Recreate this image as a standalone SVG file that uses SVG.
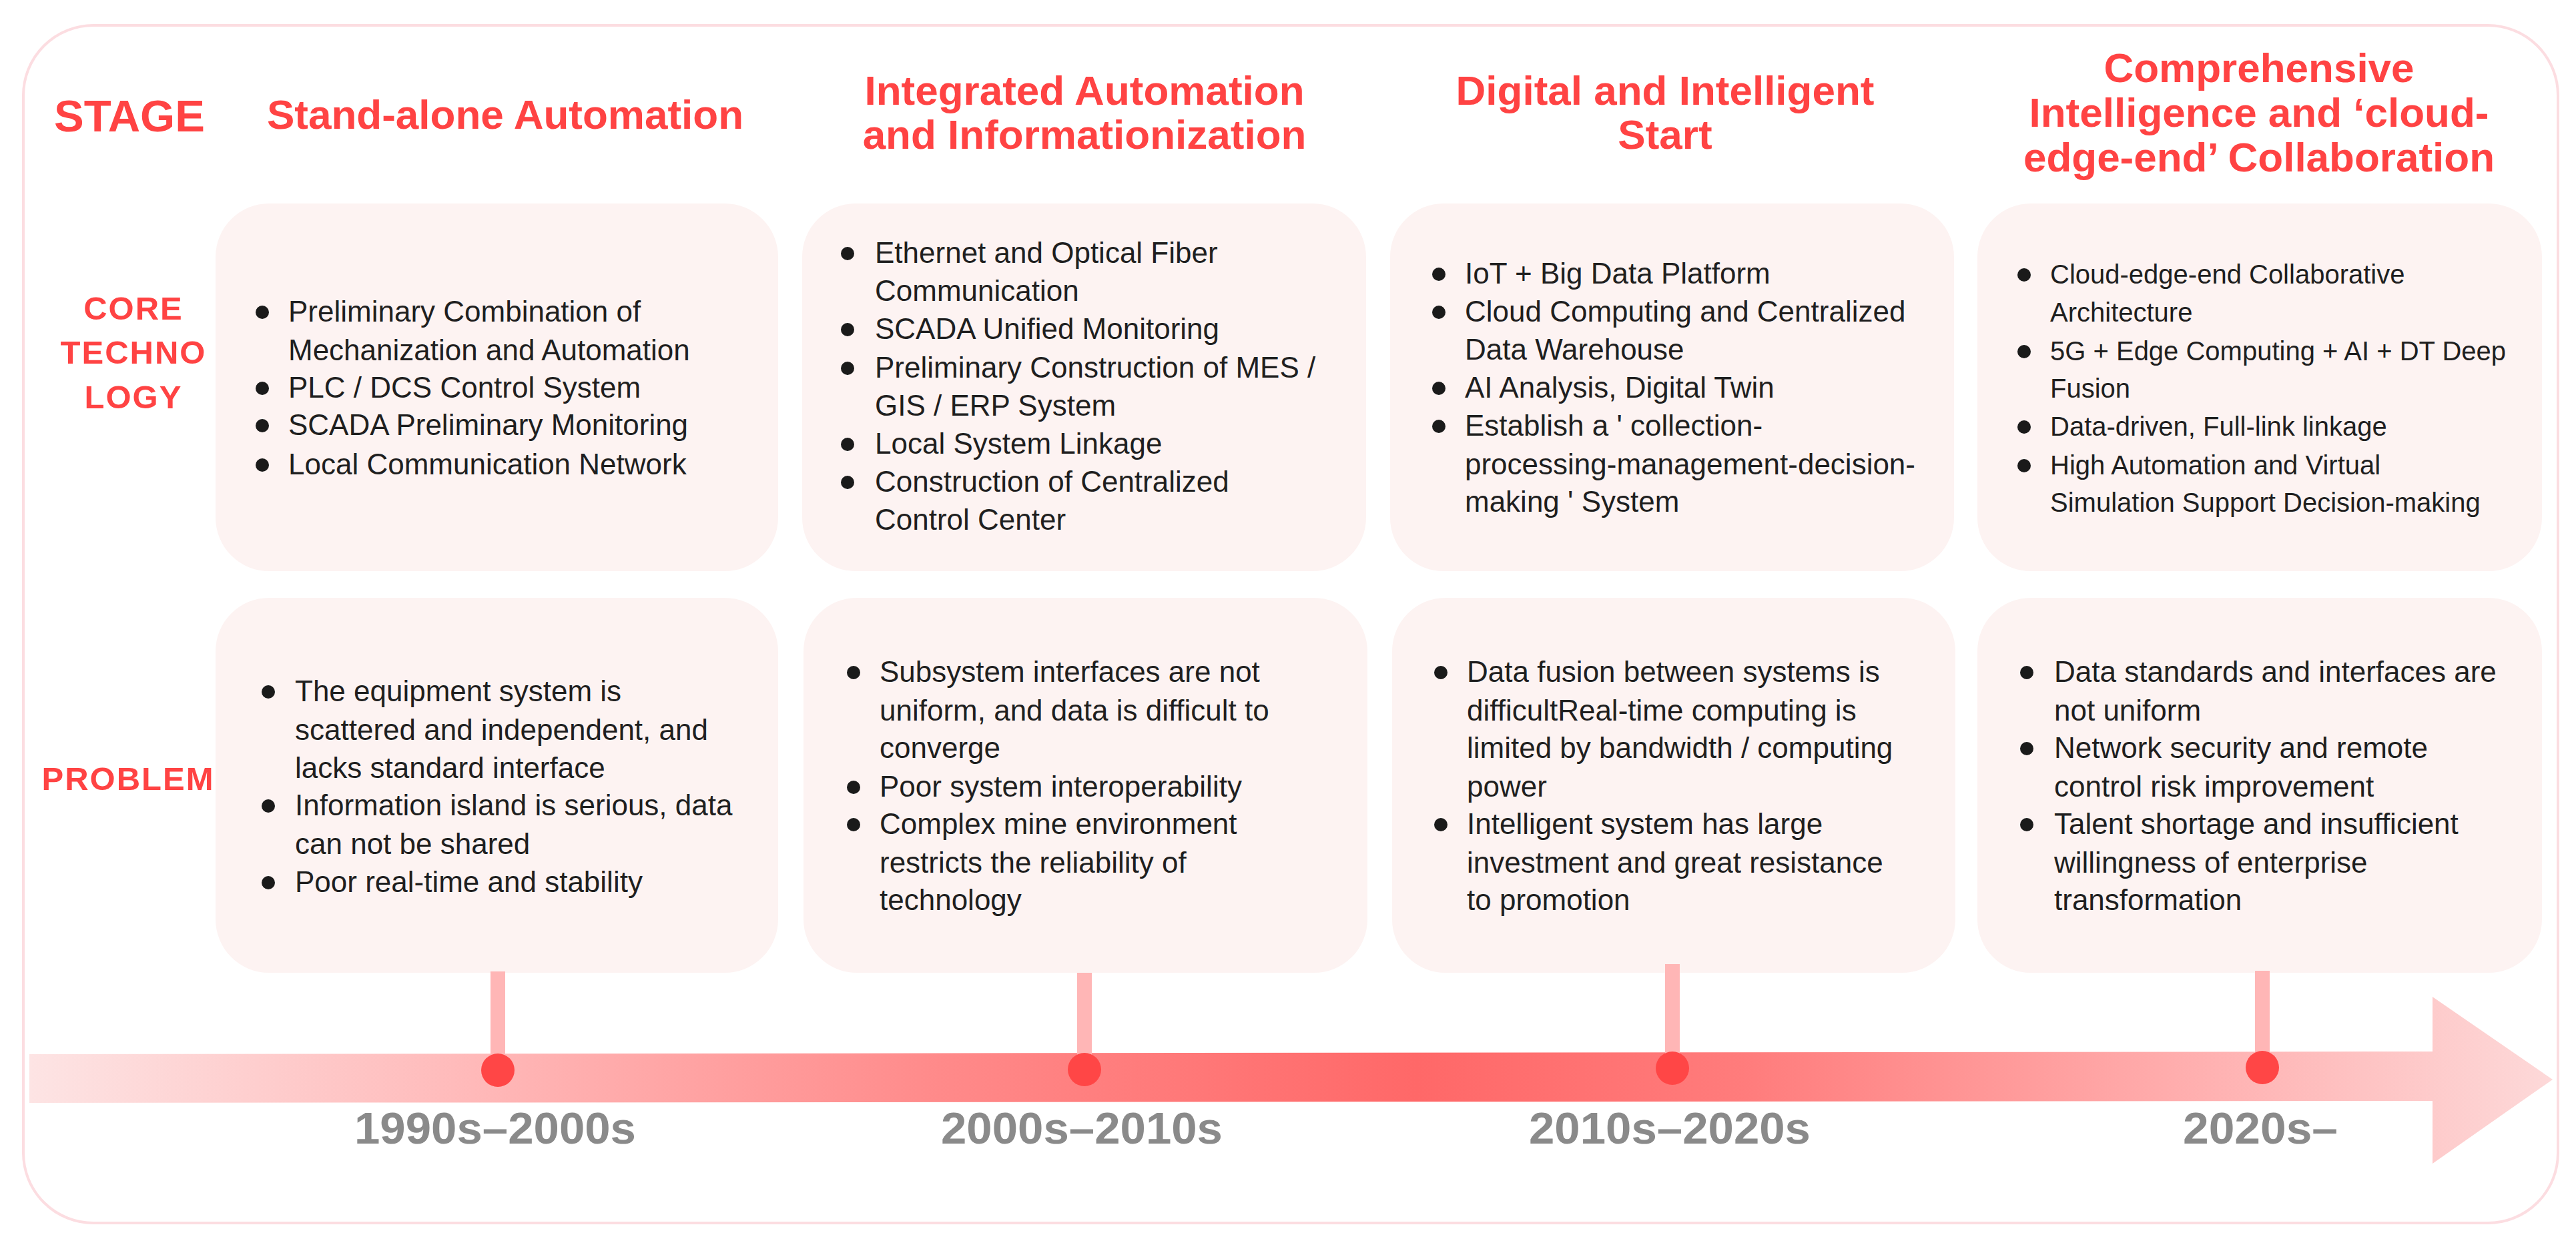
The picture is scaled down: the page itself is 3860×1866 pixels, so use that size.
<svg xmlns="http://www.w3.org/2000/svg" width="3860" height="1866" viewBox="0 0 3860 1866">
<defs>
<linearGradient id="barGrad" gradientUnits="userSpaceOnUse" x1="44" y1="0" x2="3825" y2="0">
<stop offset="0" stop-color="#fde4e4"/>
<stop offset="0.18" stop-color="#ffb8b8"/>
<stop offset="0.36" stop-color="#ff8a8a"/>
<stop offset="0.55" stop-color="#ff6868"/>
<stop offset="0.68" stop-color="#ff7c7c"/>
<stop offset="0.85" stop-color="#ffadad"/>
<stop offset="1" stop-color="#fdd9d9"/>
</linearGradient>
<style>
.red{font-family:"Liberation Sans",Arial,sans-serif;font-weight:bold;fill:#ff4343}
.lab{font-size:49px;letter-spacing:2px;text-anchor:middle}
.ttl{font-size:62px;text-anchor:middle}
.box{fill:#fdf3f2}
.txt{font-family:"Liberation Sans",Arial,sans-serif;font-size:44px;fill:#1f1f1f}
.txt4{font-size:40px}
.dot{fill:#1a1a1a}
.stem{fill:#ffb6b6}
.pin{fill:#ff4646}
.yr{font-family:"Liberation Sans",Arial,sans-serif;font-weight:bold;font-size:66px;fill:#8a8a8a;text-anchor:middle}
</style>
</defs>
<rect x="0" y="0" width="3860" height="1866" fill="#ffffff"/>
<rect id="frame" x="35" y="38" width="3798" height="1795" rx="105" ry="105" fill="#ffffff" stroke="#fcdde1" stroke-width="4"/>

<g id="row-labels">
<text class="red" x="81" y="197" font-size="67">STAGE</text>
<text class="red lab" x="200" y="479">CORE</text>
<text class="red lab" x="200" y="545">TECHNO</text>
<text class="red lab" x="200" y="612">LOGY</text>
<text class="red lab" x="192" y="1184">PROBLEM</text>
</g>

<g id="stage-titles">
<g id="stage1"><text class="red ttl" x="757" y="193">Stand-alone Automation</text></g>
<g id="stage2"><text class="red ttl" x="1625" y="157">Integrated Automation</text><text class="red ttl" x="1625" y="223">and Informationization</text></g>
<g id="stage3"><text class="red ttl" x="2495" y="157">Digital and Intelligent</text><text class="red ttl" x="2495" y="223">Start</text></g>
<g id="stage4"><text class="red ttl" x="3385" y="123">Comprehensive</text><text class="red ttl" x="3385" y="190">Intelligence and ‘cloud-</text><text class="red ttl" x="3385" y="257">edge-end’ Collaboration</text></g>
</g>

<g id="core1">
<rect class="box" x="323" y="305" width="843" height="551" rx="80"/>
<circle class="dot" cx="393" cy="468" r="10"/><circle class="dot" cx="393" cy="582" r="10"/><circle class="dot" cx="393" cy="638" r="10"/><circle class="dot" cx="393" cy="697" r="10"/>
<text class="txt"><tspan x="432" y="482">Preliminary Combination of</tspan><tspan x="432" y="540">Mechanization and Automation</tspan><tspan x="432" y="596">PLC / DCS Control System</tspan><tspan x="432" y="652">SCADA Preliminary Monitoring</tspan><tspan x="432" y="711">Local Communication Network</tspan></text>
</g>

<g id="core2">
<rect class="box" x="1202" y="305" width="845" height="551" rx="80"/>
<circle class="dot" cx="1270" cy="380" r="10"/><circle class="dot" cx="1270" cy="494" r="10"/><circle class="dot" cx="1270" cy="552" r="10"/><circle class="dot" cx="1270" cy="666" r="10"/><circle class="dot" cx="1270" cy="723" r="10"/>
<text class="txt"><tspan x="1311" y="394">Ethernet and Optical Fiber</tspan><tspan x="1311" y="451">Communication</tspan><tspan x="1311" y="508">SCADA Unified Monitoring</tspan><tspan x="1311" y="566">Preliminary Construction of MES /</tspan><tspan x="1311" y="623">GIS / ERP System</tspan><tspan x="1311" y="680">Local System Linkage</tspan><tspan x="1311" y="737">Construction of Centralized</tspan><tspan x="1311" y="794">Control Center</tspan></text>
</g>

<g id="core3">
<rect class="box" x="2083" y="305" width="845" height="551" rx="80"/>
<circle class="dot" cx="2156" cy="411" r="10"/><circle class="dot" cx="2156" cy="468" r="10"/><circle class="dot" cx="2156" cy="582" r="10"/><circle class="dot" cx="2156" cy="639" r="10"/>
<text class="txt"><tspan x="2195" y="425">IoT + Big Data Platform</tspan><tspan x="2195" y="482">Cloud Computing and Centralized</tspan><tspan x="2195" y="539">Data Warehouse</tspan><tspan x="2195" y="596">AI Analysis, Digital Twin</tspan><tspan x="2195" y="653">Establish a ' collection-</tspan><tspan x="2195" y="711">processing-management-decision-</tspan><tspan x="2195" y="767">making ' System</tspan></text>
</g>

<g id="core4">
<rect class="box" x="2963" y="305" width="846" height="551" rx="80"/>
<circle class="dot" cx="3033" cy="412" r="10"/><circle class="dot" cx="3033" cy="527" r="10"/><circle class="dot" cx="3033" cy="640" r="10"/><circle class="dot" cx="3033" cy="698" r="10"/>
<text class="txt txt4"><tspan x="3072" y="425">Cloud-edge-end Collaborative</tspan><tspan x="3072" y="482">Architecture</tspan><tspan x="3072" y="540">5G + Edge Computing + AI + DT Deep</tspan><tspan x="3072" y="596">Fusion</tspan><tspan x="3072" y="653">Data-driven, Full-link linkage</tspan><tspan x="3072" y="711">High Automation and Virtual</tspan><tspan x="3072" y="767">Simulation Support Decision-making</tspan></text>
</g>

<g id="problem1">
<rect class="box" x="323" y="896" width="843" height="562" rx="80"/>
<circle class="dot" cx="402" cy="1037" r="10"/><circle class="dot" cx="402" cy="1208" r="10"/><circle class="dot" cx="402" cy="1323" r="10"/>
<text class="txt"><tspan x="442" y="1051">The equipment system is</tspan><tspan x="442" y="1109">scattered and independent, and</tspan><tspan x="442" y="1166">lacks standard interface</tspan><tspan x="442" y="1222">Information island is serious, data</tspan><tspan x="442" y="1280">can not be shared</tspan><tspan x="442" y="1337">Poor real-time and stability</tspan></text>
</g>

<g id="problem2">
<rect class="box" x="1204" y="896" width="845" height="562" rx="80"/>
<circle class="dot" cx="1279" cy="1008" r="10"/><circle class="dot" cx="1279" cy="1180" r="10"/><circle class="dot" cx="1279" cy="1236" r="10"/>
<text class="txt"><tspan x="1318" y="1022">Subsystem interfaces are not</tspan><tspan x="1318" y="1080">uniform, and data is difficult to</tspan><tspan x="1318" y="1136">converge</tspan><tspan x="1318" y="1194">Poor system interoperability</tspan><tspan x="1318" y="1250">Complex mine environment</tspan><tspan x="1318" y="1308">restricts the reliability of</tspan><tspan x="1318" y="1364">technology</tspan></text>
</g>

<g id="problem3">
<rect class="box" x="2086" y="896" width="844" height="562" rx="80"/>
<circle class="dot" cx="2159" cy="1008" r="10"/><circle class="dot" cx="2159" cy="1236" r="10"/>
<text class="txt"><tspan x="2198" y="1022">Data fusion between systems is</tspan><tspan x="2198" y="1080">difficultReal-time computing is</tspan><tspan x="2198" y="1136">limited by bandwidth / computing</tspan><tspan x="2198" y="1194">power</tspan><tspan x="2198" y="1250">Intelligent system has large</tspan><tspan x="2198" y="1308">investment and great resistance</tspan><tspan x="2198" y="1364">to promotion</tspan></text>
</g>

<g id="problem4">
<rect class="box" x="2963" y="896" width="846" height="562" rx="80"/>
<circle class="dot" cx="3037" cy="1008" r="10"/><circle class="dot" cx="3037" cy="1122" r="10"/><circle class="dot" cx="3037" cy="1236" r="10"/>
<text class="txt"><tspan x="3078" y="1022">Data standards and interfaces are</tspan><tspan x="3078" y="1080">not uniform</tspan><tspan x="3078" y="1136">Network security and remote</tspan><tspan x="3078" y="1194">control risk improvement</tspan><tspan x="3078" y="1250">Talent shortage and insufficient</tspan><tspan x="3078" y="1308">willingness of enterprise</tspan><tspan x="3078" y="1364">transformation</tspan></text>
</g>

<g id="timeline">
<path d="M44,1580 L3645,1576 L3645,1494 L3825,1618 L3645,1744 L3645,1650 L44,1653 Z" fill="url(#barGrad)"/>
</g>

<g id="connectors">
<rect class="stem" x="735" y="1456" width="22" height="130"/>
<rect class="stem" x="1614" y="1458" width="22" height="128"/>
<rect class="stem" x="2495" y="1445" width="22" height="140"/>
<rect class="stem" x="3379" y="1455" width="22" height="128"/>
<circle class="pin" cx="746" cy="1604" r="25"/>
<circle class="pin" cx="1625" cy="1603" r="25"/>
<circle class="pin" cx="2506" cy="1601" r="25"/>
<circle class="pin" cx="3390" cy="1600" r="25"/>
</g>

<g id="years">
<text class="yr" x="742" y="1714" textLength="422" lengthAdjust="spacingAndGlyphs">1990s–2000s</text>
<text class="yr" x="1621" y="1714" textLength="422" lengthAdjust="spacingAndGlyphs">2000s–2010s</text>
<text class="yr" x="2502" y="1714" textLength="422" lengthAdjust="spacingAndGlyphs">2010s–2020s</text>
<text class="yr" x="3387" y="1714" textLength="232" lengthAdjust="spacingAndGlyphs">2020s–</text>
</g>
</svg>
